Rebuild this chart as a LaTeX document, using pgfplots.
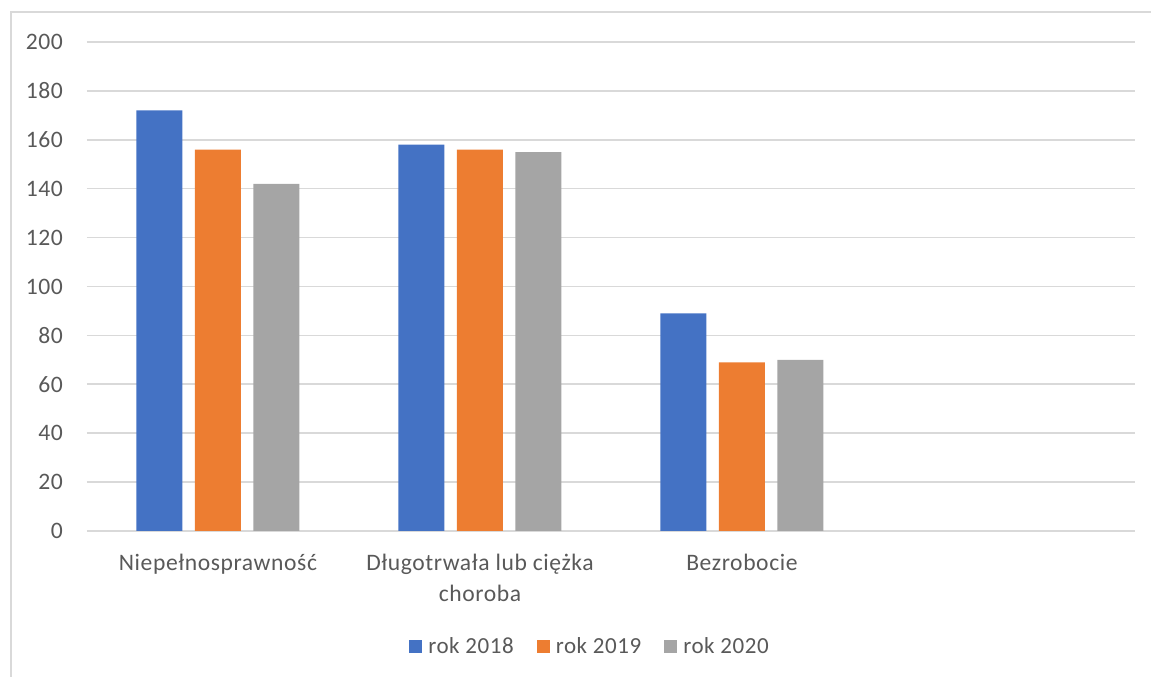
\documentclass[border=0pt]{standalone}
\usepackage{fontspec}
\setmainfont{Carlito}[LetterSpace=2.5]
\usepackage{pgfplots}
\pgfplotsset{compat=1.18}
\definecolor{cA}{HTML}{4472C4}
\definecolor{cB}{HTML}{ED7D31}
\definecolor{cC}{HTML}{A5A5A5}
\definecolor{gridc}{HTML}{D9D9D9}
\definecolor{txt}{HTML}{595959}
\pgfplotsset{sqleg/.style={legend image code/.code={\fill[##1] (0pt,-3.25pt) rectangle (6.5pt,3.25pt);}}}
\begin{document}
\begin{tikzpicture}
\begin{axis}[
    scale only axis, width=524pt, height=244.5pt,
    xmin=-0.5, xmax=3.5, ymin=0, ymax=200,
    ybar=6.25pt, bar width=23pt,
    ytick={0,20,...,200},
    xtick={0,1,2},
    xticklabels={Niepełnosprawność, {Długotrwała lub ciężka\\choroba}, Bezrobocie},
    axis line style={draw=none},
    tick style={draw=none},
    ymajorgrids=true,
    grid style={gridc, line width=0.8pt},
    /pgf/number format/assume math mode=true,
    tick label style={font=\fontsize{11.8}{15.5}\selectfont, text=txt},
    yticklabel style={xshift=-8.5pt},
    xticklabel style={align=center, yshift=-4pt},
    clip=false,
    legend columns=3,
    legend style={draw=none, at={(rel axis cs:0.481,-0.237)}, anchor=center,
        font=\fontsize{11.5}{15}\selectfont, text=txt,
        /tikz/every odd column/.append style={column sep=1pt},
        /tikz/every even column/.append style={column sep=9.5pt}},
]
\addplot[fill=cA, draw=none, sqleg] coordinates {(0,172) (1,158) (2,89)};
\addplot[fill=cB, draw=none, sqleg] coordinates {(0,156) (1,156) (2,69)};
\addplot[fill=cC, draw=none, sqleg] coordinates {(0,142) (1,155) (2,70)};
\legend{rok 2018, rok 2019, rok 2020}
\coordinate (bl) at (rel axis cs:-0.0830,-0.2986);
\coordinate (tr) at (rel axis cs:1.0153,1.0859);
\coordinate (fb) at (rel axis cs:-0.0725,-0.2986);
\coordinate (fl) at (rel axis cs:-0.0725,1.0613);
\coordinate (fr) at (rel axis cs:1.0153,1.0613);
\end{axis}
\draw[gridc, line width=0.8pt] (fb) -- (fl) -- (fr);
\pgfresetboundingbox
\path[use as bounding box] (bl) rectangle (tr);
\end{tikzpicture}
\end{document}
